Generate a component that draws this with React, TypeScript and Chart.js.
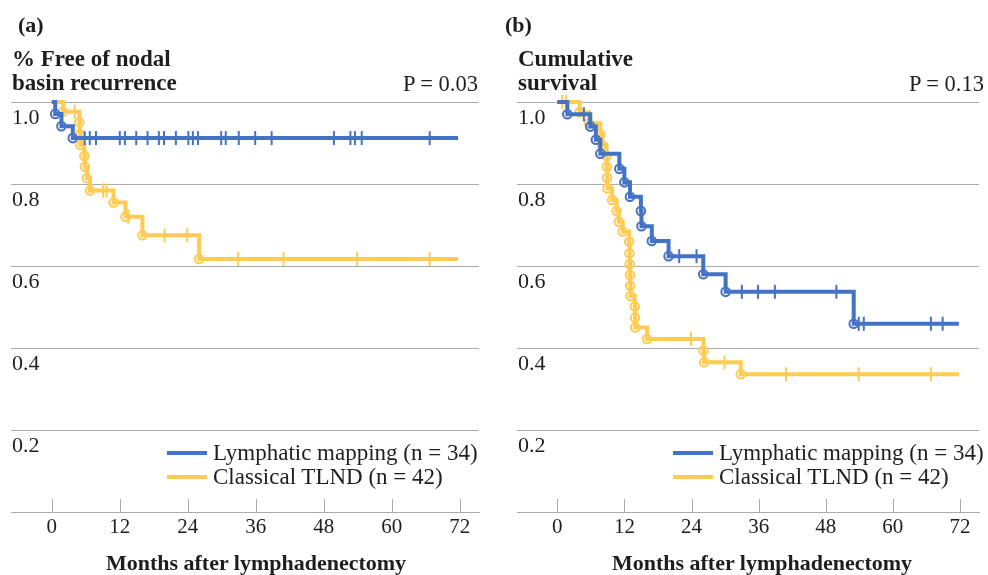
import React, { useEffect, useRef } from 'react';
import { Chart, registerables } from 'chart.js';
Chart.register(...registerables);

// ---------- data ----------
const X_TICKS = [0, 12, 24, 36, 48, 60, 72];
const Y_TICKS = [0, 0.2, 0.4, 0.6, 0.8, 1.0];
const Y_LABELS = ['', '0.2', '0.4', '0.6', '0.8', '1.0'];
const SERIES_NAMES = ['Lymphatic mapping (n = 34)', 'Classical TLND (n = 42)'];
const PANEL_LETTERS = ['(a)', '(b)'];
const PANEL_TITLES = [['% Free of nodal', 'basin recurrence'], ['Cumulative', 'survival']];
const P_VALUES = ['P = 0.03', 'P = 0.13'];
const X_TITLE = 'Months after lymphadenectomy';

// Panel (a): nodal basin recurrence
const A_MAP_TIMES = [0.6, 1.7, 3.7];
const A_MAP_SURV = [0.971, 0.941, 0.912];
const A_MAP_CENSOR = [5.8, 6.7, 7.8, 12.0, 12.9, 14.9, 16.9, 18.9, 19.8, 21.9, 24.1, 24.9, 25.8, 29.9, 30.7, 33.0, 35.9, 38.8, 49.8, 52.7, 53.5, 54.7, 66.7];
const A_MAP_END = 71.7;
const A_TLND_TIMES = [2.0, 4.85, 4.95, 5.05, 5.75, 5.85, 6.2, 6.75, 10.9, 13.0, 16.0, 26.0];
const A_TLND_SURV = [0.976, 0.95, 0.922, 0.895, 0.868, 0.842, 0.814, 0.784, 0.755, 0.72, 0.675, 0.617];
const A_TLND_CENSOR = [4.06, 9.06, 9.65, 13.5, 19.9, 23.9, 32.9, 40.9, 53.9, 66.7];
const A_TLND_END = 71.7;

// Panel (b): cumulative survival
const B_MAP_TIMES = [1.8, 5.9, 6.9, 7.7, 11.1, 12.0, 13.0, 14.95, 15.05, 16.9, 19.9, 26.1, 30.1, 53.0];
const B_MAP_SURV = [0.97, 0.94, 0.908, 0.874, 0.837, 0.804, 0.769, 0.734, 0.697, 0.661, 0.624, 0.58, 0.537, 0.459];
const B_MAP_CENSOR = [4.76, 21.8, 24.9, 33.0, 35.9, 38.9, 49.9, 53.9, 54.8, 66.8, 68.9];
const B_MAP_END = 71.8;
const B_TLND_TIMES = [4.0, 5.65, 7.7, 8.0, 8.8, 8.85, 8.9, 8.95, 9.8, 10.6, 11.0, 11.7, 12.85, 12.9, 12.95, 13.0, 13.05, 13.1, 13.85, 13.9, 13.95, 16.05, 26.15, 26.25, 32.8];
const B_TLND_SURV = [0.975, 0.948, 0.921, 0.895, 0.868, 0.842, 0.815, 0.789, 0.761, 0.734, 0.708, 0.684, 0.659, 0.631, 0.604, 0.578, 0.552, 0.527, 0.501, 0.474, 0.45, 0.422, 0.393, 0.365, 0.336];
const B_TLND_CENSOR = [0.9, 1.6, 23.9, 29.9, 40.9, 53.9, 66.8];
const B_TLND_END = 71.8;

// ---------- styles ----------
const BLUE = '#4472C4';
const YELLOW = '#FFCB52';
const GRID = '#ABABAB';
const TEXT = '#1e1e1e';
const FONT = "'Liberation Serif', 'Times New Roman', serif";

type Series = { times: number[]; surv: number[]; censor: number[]; end: number; color: string };

function survAt(times: number[], surv: number[], t: number) {
  let s = 1;
  for (let i = 0; i < times.length; i++) if (times[i] <= t) s = surv[i];
  return s;
}

function buildDatasets(list: Series[]) {
  const ds: any[] = [];
  for (const s of list) {
    const events = s.times.map((t, i) => ({ x: t, y: s.surv[i] }));
    const line = [{ x: 0, y: 1 }, ...events, { x: s.end, y: s.surv[s.surv.length - 1] }];
    const cens = s.censor.map((c) => ({ x: c, y: survAt(s.times, s.surv, c) }));
    ds.push({
      data: line, stepped: true, borderColor: s.color, borderWidth: 4, pointRadius: 0,
      fill: false, clip: false, borderJoinStyle: 'miter', borderCapStyle: 'butt',
    });
    ds.push({
      data: events, showLine: false, pointStyle: 'circle', pointRadius: 4.3, pointBorderWidth: 2,
      pointBorderColor: s.color, pointBackgroundColor: 'rgba(255,255,255,0)', clip: false,
    });
    ds.push({
      data: cens, showLine: false, pointStyle: 'line', pointRotation: 90, pointRadius: 7,
      pointBorderWidth: 2, pointBorderColor: s.color, clip: false,
    });
  }
  return ds;
}

const tickMarks = {
  id: 'tickMarks',
  afterDraw(chart: any) {
    const x = chart.scales.x;
    const ctx = chart.ctx;
    const bottom = chart.chartArea.bottom;
    ctx.save();
    ctx.strokeStyle = GRID;
    ctx.lineWidth = 1;
    for (const v of X_TICKS) {
      const px = Math.round(x.getPixelForValue(v)) + 0.5;
      ctx.beginPath();
      ctx.moveTo(px, bottom - 13);
      ctx.lineTo(px, bottom);
      ctx.stroke();
    }
    ctx.restore();
  },
};

function Panel({ series, padLeft, padRight }: { series: Series[]; padLeft: number; padRight: number }) {
  const ref = useRef<HTMLCanvasElement>(null);
  useEffect(() => {
    if (!ref.current) return;
    const chart = new Chart(ref.current, {
      type: 'line',
      data: { datasets: buildDatasets(series) },
      options: {
        animation: false,
        responsive: false,
        maintainAspectRatio: false,
        events: [],
        layout: { padding: { left: padLeft, right: padRight, top: 102, bottom: 0 } },
        plugins: { legend: { display: false }, tooltip: { enabled: false }, title: { display: false } },
        scales: {
          x: {
            type: 'linear', min: -7.2, max: 75.4,
            afterBuildTicks: (s: any) => { s.ticks = X_TICKS.map((v) => ({ value: v })); },
            afterFit: (s: any) => { s.height = 63; },
            grid: { display: true, drawOnChartArea: false, drawTicks: false },
            border: { display: true, color: GRID, width: 1 },
            ticks: {
              autoSkip: false, maxRotation: 0, padding: 3, color: TEXT,
              font: { family: FONT, size: 21 },
              callback: (v: any) => String(v),
            },
          },
          y: {
            type: 'linear', min: 0, max: 1,
            afterBuildTicks: (s: any) => { s.ticks = Y_TICKS.map((v) => ({ value: v })); },
            afterFit: (s: any) => { s.width = 0; },
            grid: { color: GRID, lineWidth: 1, drawTicks: false },
            border: { display: false },
            ticks: {
              mirror: true, labelOffset: 16, padding: 1, color: TEXT,
              font: { family: FONT, size: 22 },
              callback: (_v: any, i: number) => Y_LABELS[i],
            },
          },
        },
      } as any,
      plugins: [tickMarks],
    });
    return () => chart.destroy();
  }, []);
  return <canvas ref={ref} width={494} height={575} style={{ display: 'block', width: 494, height: 575 }} />;
}

function Texts({ letterX, titleX, pRight, legendX, xCenter, idx }: any) {
  const abs = (o: any): React.CSSProperties => ({ position: 'absolute', whiteSpace: 'nowrap', fontFamily: FONT, color: TEXT, ...o });
  return (
    <>
      <div style={abs({ left: letterX, top: 13, fontSize: 22, fontWeight: 'bold', lineHeight: '24px' })}>{PANEL_LETTERS[idx]}</div>
      <div style={abs({ left: titleX, top: 47, fontSize: 23, fontWeight: 'bold', lineHeight: '24px' })}>
        {PANEL_TITLES[idx][0]}<br />{PANEL_TITLES[idx][1]}
      </div>
      <div style={abs({ left: pRight - 200, width: 200, textAlign: 'right', top: 72, fontSize: 22.5, lineHeight: '24px' })}>{P_VALUES[idx]}</div>
      {[BLUE, YELLOW].map((c, i) => (
        <React.Fragment key={i}>
          <div style={{ position: 'absolute', left: legendX, top: 451 + i * 24, width: 40, height: 4, background: c }} />
          <div style={abs({ left: legendX + 46, top: 441 + i * 24, fontSize: 23, lineHeight: '24px' })}>{SERIES_NAMES[i]}</div>
        </React.Fragment>
      ))}
      <div style={abs({ left: xCenter - 250, width: 500, textAlign: 'center', top: 551, fontSize: 22, fontWeight: 'bold', lineHeight: '24px' })}>{X_TITLE}</div>
    </>
  );
}

export default function App() {
  const seriesA: Series[] = [
    { times: A_MAP_TIMES, surv: A_MAP_SURV, censor: A_MAP_CENSOR, end: A_MAP_END, color: BLUE },
    { times: A_TLND_TIMES, surv: A_TLND_SURV, censor: A_TLND_CENSOR, end: A_TLND_END, color: YELLOW },
  ];
  const seriesB: Series[] = [
    { times: B_MAP_TIMES, surv: B_MAP_SURV, censor: B_MAP_CENSOR, end: B_MAP_END, color: BLUE },
    { times: B_TLND_TIMES, surv: B_TLND_SURV, censor: B_TLND_CENSOR, end: B_TLND_END, color: YELLOW },
  ];
  return (
    <div style={{ position: 'absolute', left: 0, top: 0, width: 988, height: 575, background: '#fff', overflow: 'hidden' }}>
      <div style={{ position: 'absolute', left: 0, top: 0 }}>
        <Panel series={seriesA} padLeft={11} padRight={15} />
      </div>
      <div style={{ position: 'absolute', left: 494, top: 0 }}>
        <Panel series={seriesB} padLeft={23} padRight={2} />
      </div>
      <Texts idx={0} letterX={18} titleX={12} pRight={478} legendX={167} xCenter={256} />
      <Texts idx={1} letterX={505} titleX={518} pRight={984} legendX={673} xCenter={762} />
    </div>
  );
}
